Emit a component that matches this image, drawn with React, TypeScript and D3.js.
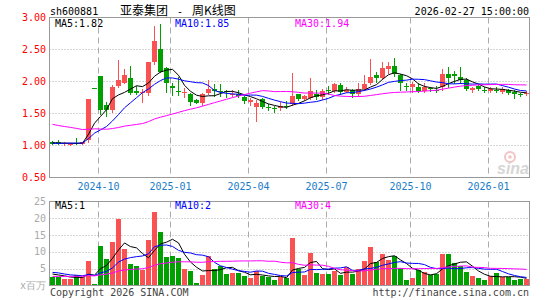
import React from "react";
import * as d3 from "d3";

const W = 545;
const H = 300;

const stockCode = "sh600881";
const titleParts = ["亚泰集团", "-", "周K线图"];
const stampText = "2026-02-27 15:00:00";

// weekly candles, oldest first
const opens = [
  1.06, 1.05, 1.02, 1.02, 1.04, 1.03, 1.09, 1.905, 2.08, 1.63,
  1.55, 1.93, 1.98, 2.05, 1.85, 1.82, 1.82, 2.3, 2.5, 2.21,
  1.93, 1.845, 1.82, 1.8, 1.71, 1.67, 1.82, 1.875, 1.855, 1.85,
  1.79, 1.8, 1.76, 1.68, 1.6, 1.72, 1.595, 1.59, 1.58, 1.615,
  1.65, 1.8, 1.73, 1.74, 1.81, 1.76, 1.86, 1.85, 1.94, 1.84,
  1.87, 1.8, 1.875, 1.97, 2.1, 2.05, 2.19, 2.24, 2.1, 1.93,
  1.91, 1.91, 1.85, 1.895, 1.87, 1.91, 2.12, 2.11, 2.07, 2.02,
  1.87, 1.93, 1.87, 1.855, 1.87, 1.84, 1.86, 1.84, 1.805, 1.8,
];
const highs = [
  1.07, 1.08, 1.05, 1.04, 1.12, 1.06, 1.73, 1.905, 2.08, 1.68,
  1.94, 2.34, 2.19, 2.24, 1.93, 1.88, 2.3, 2.86, 2.9, 2.22,
  1.97, 2.07, 1.9, 1.82, 1.72, 1.82, 2.02, 1.96, 1.96, 1.86,
  1.86, 1.87, 1.78, 1.75, 1.71, 1.74, 1.65, 1.61, 1.68, 1.69,
  2.13, 1.8, 1.79, 2.05, 1.87, 1.89, 1.93, 1.98, 1.97, 1.92,
  1.89, 1.97, 2.1, 2.35, 2.15, 2.3, 2.3, 2.37, 2.12, 1.97,
  1.99, 1.97, 1.97, 1.92, 1.93, 2.2, 2.22, 2.16, 2.23, 2.05,
  1.91, 1.94, 1.91, 1.91, 1.92, 1.91, 1.89, 1.86, 1.82, 1.85,
];
const lows = [
  1.02, 1.02, 1.01, 1.01, 1.02, 1.02, 1.06, 1.9, 1.5, 1.46,
  1.52, 1.92, 1.97, 1.8, 1.8, 1.68, 1.79, 2.28, 2.15, 1.84,
  1.79, 1.79, 1.76, 1.63, 1.66, 1.63, 1.8, 1.78, 1.77, 1.76,
  1.77, 1.76, 1.66, 1.64, 1.39, 1.58, 1.55, 1.52, 1.56, 1.59,
  1.64, 1.71, 1.71, 1.73, 1.73, 1.73, 1.8, 1.84, 1.81, 1.83,
  1.76, 1.78, 1.87, 1.96, 1.99, 2.04, 2.13, 2.08, 1.86, 1.87,
  1.84, 1.84, 1.84, 1.85, 1.83, 1.86, 1.92, 1.98, 1.97, 1.86,
  1.83, 1.87, 1.84, 1.84, 1.83, 1.82, 1.8, 1.75, 1.78, 1.79,
];
const closes = [
  1.03, 1.03, 1.04, 1.03, 1.03, 1.05, 1.73, 1.9, 1.56, 1.56,
  1.91, 2.02, 2.1, 1.82, 1.82, 1.84, 2.3, 2.63, 2.15, 1.97,
  1.9, 1.84, 1.84, 1.68, 1.67, 1.8, 1.89, 1.85, 1.85, 1.83,
  1.81, 1.78, 1.69, 1.71, 1.66, 1.6, 1.59, 1.57, 1.61, 1.61,
  1.77, 1.73, 1.77, 1.85, 1.76, 1.85, 1.85, 1.96, 1.84, 1.86,
  1.8, 1.875, 1.96, 2.07, 2.05, 2.21, 2.24, 2.11, 1.97, 1.925,
  1.96, 1.85, 1.91, 1.88, 1.86, 2.12, 2.06, 2.09, 2.03, 1.89,
  1.9, 1.89, 1.865, 1.89, 1.865, 1.875, 1.82, 1.8, 1.8, 1.82,
];
// weekly volume, millions of shares
const volumes = [
  2.5, 2.5, 2.0, 2.0, 3.1, 2.4, 7.3, 0.5, 11.8, 7.8,
  13.0, 19.8, 10.9, 6.4, 5.9, 4.5, 13.6, 21.9, 16.0, 8.5,
  8.8, 8.2, 5.0, 4.4, 0.8, 3.2, 8.8, 5.0, 5.9, 3.5,
  3.8, 3.8, 2.7, 2.1, 4.3, 2.7, 2.5, 1.7, 2.5, 2.1,
  14.2, 4.9, 3.2, 9.8, 3.7, 3.5, 3.5, 4.2, 3.2, 5.5,
  3.5, 4.9, 7.4, 11.4, 7.1, 9.4, 7.6, 8.8, 5.2, 1.7,
  2.3, 4.7, 4.0, 3.1, 3.5, 9.4, 9.4, 6.6, 5.7, 4.1,
  2.9, 2.3, 1.7, 2.7, 3.7, 2.5, 2.5, 1.7, 2.0, 2.0,
];
// the 29 weeks before the window, only used to start the moving averages
const priorCloses = [
  1.55, 1.5, 1.45, 1.52, 1.56, 1.62, 1.68, 1.66, 1.66, 1.58,
  1.52, 1.47, 1.44, 1.41, 1.42, 1.4, 1.37, 1.32, 1.26, 1.14,
  1.06, 1.02, 1.0, 1.03, 1.04, 1.05, 1.04, 1.05, 1.04,
];
const priorVolumes = [
  2.3, 1.9, 2.0, 2.4, 2.2, 1.8, 2.1, 2.5, 2.0, 1.9,
  2.2, 2.3, 1.8, 2.0, 2.1, 2.4, 2.2, 1.9, 2.0, 2.0,
  4.0, 5.2, 4.8, 4.1, 3.9, 3.8, 3.4, 3.7, 3.6,
];

const tickIndex = [8, 20, 33, 46, 60, 73];
const tickLabels = ["2024-10", "2025-01", "2025-04", "2025-07", "2025-10", "2026-01"];
const priceTicks = [3, 2.5, 2, 1.5, 1, 0.5];
const volTicks = [25, 20, 15, 10, 5];
const maPeriods = [5, 10, 30];
const maColors = ["#000000", "#0000ff", "#ff00ff"];
const priceLegend = ["MA5:1.82", "MA10:1.85", "MA30:1.94"];
const volLegend = ["MA5:1", "MA10:2", "MA30:4"];

const MONO = "'DejaVu Sans Mono', monospace";
const CJK = "'Noto Sans CJK SC', sans-serif";
const UP = "#fa5252";
const DOWN = "#00a000";
const GRID = "#aaaaaa";

function movingAvg(prior: number[], vals: number[], p: number) {
  const all = prior.concat(vals);
  return vals.map((_, i) => {
    const end = prior.length + i + 1;
    return d3.mean(all.slice(end - p, end)) as number;
  });
}

export default function App() {
  const n = closes.length;
  const x = d3
    .scaleBand<number>()
    .domain(d3.range(n))
    .range([49.5, 529.5])
    .paddingInner(1 / 6)
    .paddingOuter(1 / 12);
  const bw = x.bandwidth();
  const cx = (i: number) => Math.round(x(i)! + bw / 2) - 0.5;

  const yP = d3.scaleLinear().domain([0.5, 3]).range([177.5, 17.5]);
  const yV = d3.scaleLinear().domain([0, 25]).range([285.5, 201.5]);

  const left = 49.5;
  const right = 529.5;

  const priceMA = maPeriods.map((p) => movingAvg(priorCloses, closes, p));
  const volMA = maPeriods.map((p) => movingAvg(priorVolumes, volumes, p));

  const pLine = d3
    .line<number>()
    .x((_, i) => cx(i))
    .y((d) => yP(d));
  const vLine = d3
    .line<number>()
    .x((_, i) => cx(i))
    .y((d) => yV(d));

  return (
    <svg
      width={W}
      height={H}
      style={{ position: "absolute", left: 0, top: 0, background: "#fff" }}
    >
      {/* header */}
      <text x={50} y={15} fontFamily={MONO} fontSize={10} fill="#000">
        {stockCode}
      </text>
      <text x={120} y={15} fontFamily={CJK} fontSize={12} fill="#000">
        {titleParts[0]}
      </text>
      <text x={177} y={15} fontFamily={MONO} fontSize={10} fill="#000">
        {titleParts[1]}
      </text>
      <text x={192} y={15} fontFamily={CJK} fontSize={12} fill="#000">
        {titleParts[2]}
      </text>
      <text x={529} y={15} textAnchor="end" fontFamily={MONO} fontSize={10} fill="#000">
        {stampText}
      </text>

      {/* watermark */}
      <circle cx={510} cy={157} r={5} fill="none" stroke="#f3c4c4" strokeWidth={2} />
      <circle cx={510} cy={157} r={1.8} fill="#f3c4c4" />
      <text
        x={497}
        y={174}
        fontFamily="'Liberation Sans', sans-serif"
        fontStyle="italic"
        fontWeight="bold"
        fontSize={16}
        fill="#d6d6d6"
      >
        sina
      </text>

      {/* price grid */}
      {priceTicks.slice(1, -1).map((t) => (
        <line
          key={"pg" + t}
          x1={left}
          x2={right}
          y1={yP(t)}
          y2={yP(t)}
          stroke={GRID}
          strokeDasharray="1,2"
        />
      ))}
      {volTicks.slice(1).map((t) => (
        <line
          key={"vg" + t}
          x1={left}
          x2={right}
          y1={Math.round(yV(t)) + 0.5}
          y2={Math.round(yV(t)) + 0.5}
          stroke={GRID}
          strokeDasharray="1,2"
        />
      ))}
      {tickIndex.map((ti) => (
        <g key={"vt" + ti}>
          <line
            x1={x(ti)! + 0.5}
            x2={x(ti)! + 0.5}
            y1={yP(3)}
            y2={yP(0.5)}
            stroke={GRID}
            strokeDasharray="6,4"
          />
          <line
            x1={x(ti)! + 0.5}
            x2={x(ti)! + 0.5}
            y1={yV(25)}
            y2={yV(0)}
            stroke={GRID}
            strokeDasharray="6,4"
          />
        </g>
      ))}

      {/* candles */}
      {closes.map((c, i) => {
        const o = opens[i];
        const up = c > o;
        const col = up ? UP : DOWN;
        const top = Math.round(yP(Math.max(o, c)));
        const bot = Math.round(yP(Math.min(o, c)));
        return (
          <g key={"k" + i}>
            <line
              x1={cx(i)}
              x2={cx(i)}
              y1={Math.round(yP(highs[i]))}
              y2={Math.round(yP(lows[i])) + 1}
              stroke={col}
            />
            <rect x={x(i)} y={top} width={bw} height={Math.max(1, bot - top)} fill={col} />
          </g>
        );
      })}

      {/* volume bars */}
      {volumes.map((v, i) => {
        const up = closes[i] > opens[i];
        const top = Math.round(yV(v));
        return (
          <rect
            key={"v" + i}
            x={x(i)}
            y={top}
            width={bw}
            height={Math.max(1, 286 - top)}
            fill={up ? UP : DOWN}
          />
        );
      })}

      {/* moving averages */}
      {priceMA.map((m, k) => (
        <path key={"pm" + k} d={pLine(m) || ""} fill="none" stroke={maColors[k]} strokeWidth={1} />
      ))}
      {volMA.map((m, k) => (
        <path key={"vm" + k} d={vLine(m) || ""} fill="none" stroke={maColors[k]} strokeWidth={1} />
      ))}

      {/* frames */}
      <rect x={left} y={yP(3)} width={right - left} height={yP(0.5) - yP(3)} fill="none" stroke="#999" />
      <rect x={left} y={yV(25)} width={right - left} height={yV(0) - yV(25)} fill="none" stroke="#999" />

      {/* axis labels */}
      {priceTicks.map((t) => (
        <text
          key={"pl" + t}
          x={46}
          y={yP(t)}
          dy="0.35em"
          textAnchor="end"
          fontFamily={MONO}
          fontSize={10}
          fill="#ff0000"
        >
          {t.toFixed(2)}
        </text>
      ))}
      {volTicks.map((t) => (
        <text
          key={"vl" + t}
          x={46}
          y={yV(t)}
          dy="0.35em"
          textAnchor="end"
          fontFamily={MONO}
          fontSize={10}
          fill="#aaaaaa"
        >
          {t}
        </text>
      ))}
      <text x={46} y={yV(0)} dy="0.3em" textAnchor="end" fontFamily={MONO} fontSize={10} fill="#aaaaaa">
        x百万
      </text>
      {tickIndex.map((ti, k) => (
        <text
          key={"xl" + ti}
          x={x(ti)! + 0.5}
          y={190}
          textAnchor="middle"
          fontFamily={MONO}
          fontSize={10}
          fill="#1a7cc8"
        >
          {tickLabels[k]}
        </text>
      ))}

      {/* legends */}
      {priceLegend.map((s, k) => (
        <text key={"lg" + k} x={55 + k * 120} y={27} fontFamily={MONO} fontSize={10} fill={maColors[k]}>
          {s}
        </text>
      ))}
      {volLegend.map((s, k) => (
        <text key={"vlg" + k} x={55 + k * 120} y={209} fontFamily={MONO} fontSize={10} fill={maColors[k]}>
          {s}
        </text>
      ))}

      {/* footer */}
      <text x={50} y={296} fontFamily={MONO} fontSize={10} fill="#444">
        Copyright 2026 SINA.COM
      </text>
      <text x={529} y={296} textAnchor="end" fontFamily={MONO} fontSize={10} fill="#444">
        http://finance.sina.com.cn
      </text>
    </svg>
  );
}
